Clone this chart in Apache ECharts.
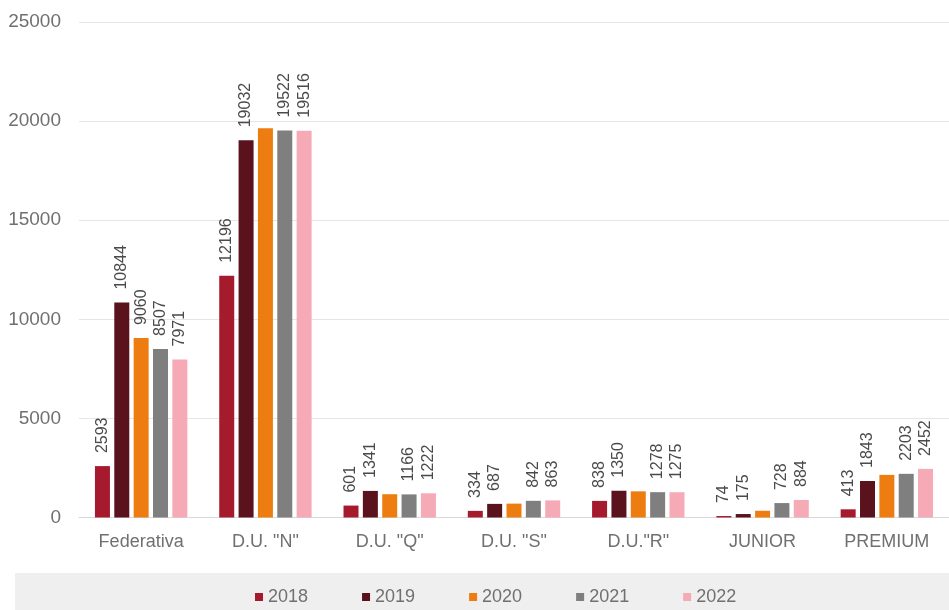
<!DOCTYPE html>
<html>
<head>
<meta charset="utf-8">
<script src="https://cdn.jsdelivr.net/npm/echarts@6/dist/echarts.min.js"></script>
<style>
  html, body { margin: 0; padding: 0; background: #fff; }
  #chart { width: 949px; height: 610px; }
</style>
</head>
<body>
<div id="chart"></div>
<script>
var categories = ['Federativa', 'D.U. "N"', 'D.U. "Q"', 'D.U. "S"', 'D.U."R"', 'JUNIOR', 'PREMIUM'];
var years = ['2018', '2019', '2020', '2021', '2022'];
var values2018 = [2593, 12196, 601, 334, 838, 74, 413];
var values2019 = [10844, 19032, 1341, 687, 1350, 175, 1843];
var values2020 = [9060, 19640, 1175, 700, 1320, 340, 2150];   // only Federativa label is readable
var values2021 = [8507, 19522, 1166, 842, 1278, 728, 2203];
var values2022 = [7971, 19516, 1222, 863, 1275, 884, 2452];
var colors = ['#a51a2c', '#5a121c', '#ee7d11', '#7f7f7f', '#f5aab5'];

var allValues = [values2018, values2019, values2020, values2021, values2022];

var chart = echarts.init(document.getElementById('chart'));

var series = years.map(function(year, k) {
    return {
        name: year,
        type: 'bar',
        barWidth: 15,
        barGap: '29%',
        itemStyle: { color: colors[k] },
        label: {
            show: true,
            position: 'top',
            rotate: 90,
            align: 'left',
            verticalAlign: 'middle',
            distance: 13,
            fontFamily: 'Liberation Sans',
            fontSize: 16,
            color: '#4a4a4a'
        },
        data: allValues[k].map(function(v, i) {
            // the 2020 labels are not visible in the original except the first
            if (year === '2020' && i > 0) {
                return { value: v, label: { show: false } };
            }
            return v;
        })
    };
});

chart.setOption({
    animation: false,
    backgroundColor: '#ffffff',
    textStyle: { fontFamily: 'Liberation Sans' },
    grid: {
        left: 79,
        top: 22,
        width: 878,
        height: 495.5
    },
    legend: {
        data: years,
        left: 250,
        top: 583,
        icon: 'rect',
        itemWidth: 8,
        itemHeight: 8,
        itemGap: 54,
        textStyle: { fontSize: 18, color: '#707070' }
    },
    graphic: [{
        type: 'rect',
        z: -1,
        shape: { x: 15, y: 573, width: 934, height: 37 },
        style: { fill: '#efefef' }
    }],
    xAxis: {
        type: 'category',
        data: categories,
        axisTick: { show: false },
        axisLine: { lineStyle: { color: '#d9d9d9' } },
        axisLabel: { fontSize: 18, color: '#707070', margin: 16 }
    },
    yAxis: {
        type: 'value',
        min: 0,
        max: 25000,
        interval: 5000,
        axisLine: { show: false },
        axisTick: { show: false },
        splitLine: { lineStyle: { color: '#e6e6e6' } },
        axisLabel: {
            fontSize: 19,
            color: '#707070',
            margin: 18,
            formatter: function(v) { return String(v); }
        }
    },
    series: series
});
</script>
</body>
</html>
